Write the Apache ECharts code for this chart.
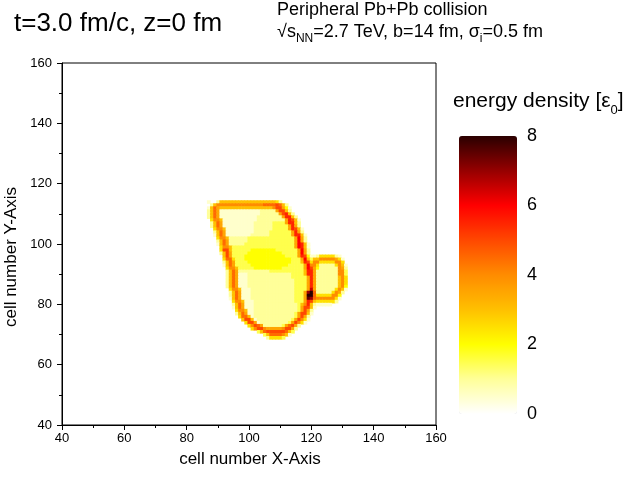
<!DOCTYPE html>
<html>
<head>
<meta charset="utf-8">
<script src="https://cdn.jsdelivr.net/npm/echarts@6/dist/echarts.min.js"></script>
<style>html,body{margin:0;padding:0;background:#fff;}</style>
</head>
<body>
<div id="main" style="width:639px;height:478px"></div>
<script>
// axis ranges
var axisMin = 40, axisMax = 160, axisStep = 20;
var barMin = 0, barMax = 8, barStep = 2;
// colour bar, one colour per integer of energy density (0..8)
var barColors = ['#ffffff', '#ffff99', '#ffff00', '#ffc000', '#ff8c00', '#ff4800', '#ff0000', '#960000', '#2a0000'];

// energy density per cell
// one char per cell, '.' = 0, then steps of 0.5 (1=0.5, 2=1.0 ... G=8.0)
var levelChars = '.123456789ABCDEFG';
var colLeft = 86;   // x of the first char in each row
var rowTop = 114;   // y of the first row, rows go downwards
var heatRows = [
  '.1..2' + '666666666666666666' + '52',
  '..26' + '888888888888888' + '9999' + 'A962',
  '.1697' + '66666666666666' + '666' + '8AA741',
  '.2697' + '1111111111111' + '22222' + '7AA62',
  '.2697' + '1111111111111' + '222222' + '7AB62',
  '.2697' + '111111111111' + '22222222' + '7BB62',
  '..5886' + '11111111111' + '222222222' + '7BA61',
  '..2697' + '1111111111' + '222222' + '3333' + '7BB62',
  '..2697' + '1111111111' + '222222' + '33333' + '7B72',
  '...5886' + '111111111' + '222222' + '33333' + '7BA61',
  '...2697' + '111111111' + '22222' + '3333333' + '7B72',
  '...1697' + '11111111' + '222222' + '3333333' + '7BB61',
  '....5886' + '222222' + '333333333333333' + '7C72',
  '....2697' + '222222' + '333333333333333' + '7C72',
  '....1697' + '22222' + '3333333333333333' + '7CB61',
  '.....5886' + '33333333333333333333' + '7CB61',
  '.....5AA6' + '333333' + '44444444' + '3333333' + '7C72',
  '.....26A7' + '33333' + '44444444444' + '33333' + '7C72',
  '......6A7' + '3333' + '4444444444444' + '3333' + '7BA411' + '2555552' + '1',
  '......5995' + '333' + '444444444444444' + '333' + '7C636' + '6888887' + '51',
  '......2697' + '3333' + '44444444444444' + '333' + '6BA588' + '55555' + '885',
  '......1697' + '33333' + '444444444444' + '33333' + '7C885' + '22222' + '5861',
  '.......5886' + '33333' + '444444444' + '3333333' + '7CA74' + '222222' + '872',
  '.......2697' + '2222222222' + '33333333333' + '6BB7' + '2222222' + '883',
  '.......2697' + '111222222' + '22222222' + '3333' + '6BB7' + '2222222' + '883',
  '.......2697' + '111222222' + '22222222' + '33333' + '7B7' + '2222222' + '685',
  '.......2697' + '111222222' + '222222222' + '3333' + '7B7' + '2222222' + '685',
  '.......2697' + '111222222' + '222222222' + '3333' + '7B7' + '2222222' + '685',
  '.......2697' + '1112222222' + '22222222' + '3333' + '7B7' + '2222222' + '684',
  '........5886' + '111222222' + '22222222' + '3333' + '7D7' + '222222' + '5861',
  '........2697' + '111222222' + '22222222' + '333' + '7EG9' + '22222' + '5872',
  '........2697' + '111222222' + '22222222' + '333' + '7GG9' + '55555' + '884',
  '........1697' + '111222222' + '22222222' + '333' + '7FE9' + '88888' + '851',
  '.........5886' + '111222222' + '2222222' + '333' + '7BA6' + '555555' + '2',
  '.........2697' + '111222222' + '22222222' + '3' + '68B62' + '11111',
  '.........1697' + '111222222' + '2222222' + '23' + '7AA61',
  '..........5886' + '11222222' + '2222222' + '23' + '7A72',
  '..........2697' + '11222222' + '2222222' + '37AA61',
  '...........5996' + '1222222' + '2222222' + '37A72',
  '............6AA6' + '122222' + '222222' + '37A851',
  '.............5AA7' + '12222' + '22222' + '37A851',
  '..............58A97' + '222222' + '379A72',
  '...............58AA8' + '7777' + '78AA72',
  '.................369' + 'AAAAAA' + '963',
  '...................36' + '9999' + '861',
  '....................2' + '5555' + '3'
];

// turn the rows into [x, y, value] cells
var cells = [];
heatRows.forEach(function (row, r) {
  for (var i = 0; i < row.length; i++) {
    var v = levelChars.indexOf(row.charAt(i)) * 0.5;
    if (v > 0) cells.push([colLeft + i, rowTop - r, v]);
  }
});

var chart = echarts.init(document.getElementById('main'));
var font = "'Liberation Sans', Arial, sans-serif";

function renderCell(params, api) {
  var x = api.value(0), y = api.value(1);
  var a = api.coord([x - 0.5, y + 0.5]);
  var b = api.coord([x + 0.5, y - 0.5]);
  return {
    type: 'rect',
    shape: { x: a[0], y: a[1], width: b[0] - a[0] + 0.6, height: b[1] - a[1] + 0.6 },
    style: { fill: api.visual('color') }
  };
}

var option = {
  animation: false,
  backgroundColor: '#fff',
  textStyle: { fontFamily: font },
  grid: [
    { left: 62, top: 63, width: 374, height: 362, show: true, borderColor: '#000', borderWidth: 1, backgroundColor: 'transparent' },
    { left: 459, top: 136, width: 58, height: 278, show: false }
  ],
  xAxis: [{
    type: 'value', min: axisMin, max: axisMax, interval: axisStep,
    axisLine: { show: true, onZero: false, lineStyle: { color: '#000', width: 1 } },
    axisTick: { show: true, inside: false, length: 5, lineStyle: { color: '#000' } },
    minorTick: { show: true, splitNumber: 2, length: 3, lineStyle: { color: '#000' } },
    splitLine: { show: false },
    axisLabel: { color: '#000', fontSize: 13, margin: 7, fontFamily: font }
  }, {
    gridIndex: 1, type: 'value', show: false
  }],
  yAxis: [{
    type: 'value', min: axisMin, max: axisMax, interval: axisStep,
    axisLine: { show: true, onZero: false, lineStyle: { color: '#000', width: 1 } },
    axisTick: { show: true, inside: false, length: 5, lineStyle: { color: '#000' } },
    minorTick: { show: true, splitNumber: 2, length: 3, lineStyle: { color: '#000' } },
    splitLine: { show: false },
    axisLabel: { color: '#000', fontSize: 13, margin: 10, fontFamily: font }
  }, {
    gridIndex: 1, type: 'value', min: barMin, max: barMax, interval: barStep, position: 'right',
    axisLine: { show: false }, axisTick: { show: false }, splitLine: { show: false },
    axisLabel: { color: '#000', fontSize: 18, margin: 10, fontFamily: font }
  }],
  visualMap: {
    type: 'continuous', min: barMin, max: barMax, dimension: 2, seriesIndex: 0,
    calculable: false, orient: 'vertical', left: 459, top: 136,
    itemWidth: 58, itemHeight: 278, padding: 0,
    inRange: { color: barColors }
  },
  graphic: [
    { type: 'text', x: 14, y: 23.5, style: { text: 't=3.0 fm/c, z=0 fm', fontSize: 26, fontFamily: font, fill: '#000', verticalAlign: 'middle' } },
    { type: 'text', x: 277, y: 10.5, style: { text: 'Peripheral Pb+Pb collision', fontSize: 18, fontFamily: font, fill: '#000', verticalAlign: 'middle' } },
    { type: 'text', x: 277, y: 19, style: {
        text: '{a|√s}{b|NN}{a|=2.7 TeV, b=14 fm, σ}{b|i}{a|=0.5 fm}', verticalAlign: 'top', fill: '#000',
        rich: { a: { fontSize: 18, lineHeight: 26, fontFamily: font }, b: { fontSize: 12, lineHeight: 12, fontFamily: font, verticalAlign: 'bottom' } } } },
    { type: 'text', x: 453, y: 86, style: {
        text: '{a|energy density [ε}{b|0}{a|]}', verticalAlign: 'top', fill: '#000',
        rich: { a: { fontSize: 21, lineHeight: 31, fontFamily: font }, b: { fontSize: 13, lineHeight: 13, fontFamily: font, verticalAlign: 'bottom' } } } },
    { type: 'text', x: 250, y: 459, style: { text: 'cell number X-Axis', fontSize: 17, fontFamily: font, fill: '#000', align: 'center', verticalAlign: 'middle' } },
    { type: 'text', x: 11, y: 257, rotation: Math.PI / 2, style: { text: 'cell number Y-Axis', fontSize: 17, fontFamily: font, fill: '#000', align: 'center', verticalAlign: 'middle' } }
  ],
  series: [{
    type: 'custom',
    coordinateSystem: 'cartesian2d',
    xAxisIndex: 0, yAxisIndex: 0,
    renderItem: renderCell,
    encode: { x: 0, y: 1 },
    data: cells
  }]
};
chart.setOption(option);
</script>
</body>
</html>
